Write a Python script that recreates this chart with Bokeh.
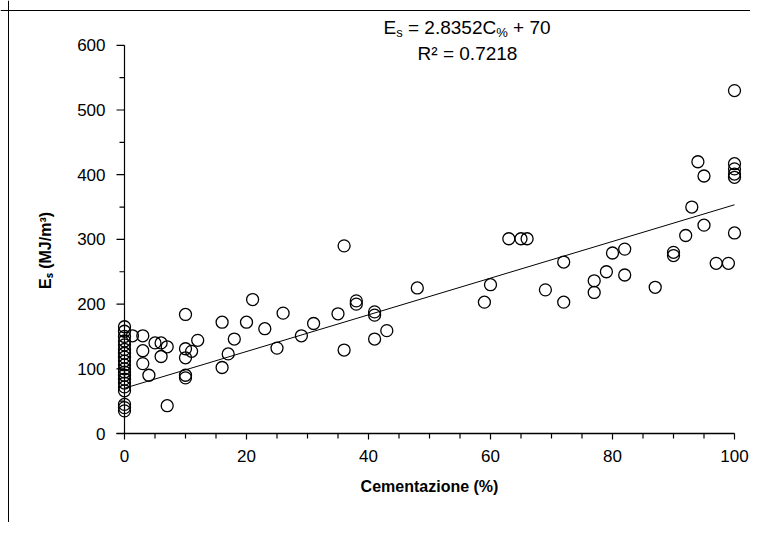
from bokeh.plotting import figure
from bokeh.models import Range1d, Label, ColumnDataSource, Span
from bokeh.core.properties import value
from bokeh.embed import file_html
from bokeh.resources import INLINE
import math

# Data (Cementazione %, Es MJ/m3)
cementazione = [0, 0, 0, 0, 0, 0, 0, 0, 0, 0, 0, 0, 0, 0, 0, 0, 0, 0, 0, 0,
                1.3, 3, 3, 3, 4, 5, 6, 7, 6, 7,
                10, 10, 10, 10, 10, 11, 12, 16, 16, 17, 18, 20, 21, 23, 25, 26,
                29, 31, 35, 36, 36, 38, 38, 41, 41, 41, 43, 48,
                59, 60, 63, 65, 66, 69, 72, 72, 77, 77, 79, 80, 82, 82, 87,
                90, 90, 92, 93, 94, 95, 95, 97, 99,
                100, 100, 100, 100, 100, 100]
energia = [165, 158, 150, 143, 137, 130, 124, 118, 112, 106, 100, 95, 90, 84, 78, 72, 66, 45, 40, 35,
           151, 151, 128, 108, 90, 140, 140, 134, 119, 43,
           184, 131, 117, 90, 86, 127, 144, 172, 102, 123, 146, 172, 207, 162, 132, 186,
           151, 170, 185, 290, 129, 200, 205, 183, 188, 146, 159, 225,
           203, 230, 301, 301, 301, 222, 265, 203, 236, 218, 250, 279, 285, 245, 226,
           275, 280, 306, 350, 420, 322, 398, 263, 263,
           530, 417, 409, 401, 396, 310]

slope = 2.8352
intercept = 70.0
fit_x = [0, 100]
fit_y = [intercept + slope * v for v in fit_x]

x_ticks = [0, 20, 40, 60, 80, 100]
x_tick_labels = [str(v) for v in x_ticks]
x_minor = [v for v in range(0, 101, 5) if v % 20]
y_ticks = [0, 100, 200, 300, 400, 500, 600]
y_tick_labels = [str(v) for v in y_ticks]
y_minor = [v for v in range(0, 601, 50) if v % 100]

x_title = "Cementazione (%)"
y_title = "Eₛ (MJ/m³)"

FONT = "Liberation Sans"
px = 6.1    # pixels per x unit
py = 0.647  # pixels per y unit

p = figure(width=750, height=522, output_backend="svg", toolbar_location=None,
           x_range=Range1d(-124 / px, 626 / px), y_range=Range1d(-89 / py, 433 / py),
           x_axis_location=None, y_axis_location=None,
           min_border_left=0, min_border_right=0, min_border_top=0, min_border_bottom=0)
p.outline_line_color = None
p.background_fill_color = "white"
p.border_fill_color = "white"
p.xgrid.visible = False
p.ygrid.visible = False

# ---- x axis at y = 0 ----
ax_line = p.line(x=[x_ticks[0] - 8 / px, x_ticks[-1]], y=[0, 0], line_color="black",
                 line_width=1.6, level="overlay")
tick_len_major = 6 / py
tick_len_minor = 5 / py
p.segment(x0=x_ticks, y0=[0] * len(x_ticks), x1=x_ticks, y1=[-tick_len_major] * len(x_ticks),
          line_color="black", line_width=1.2, level="overlay")
p.segment(x0=x_minor, y0=[0] * len(x_minor), x1=x_minor, y1=[-tick_len_minor] * len(x_minor),
          line_color="black", line_width=1.2, level="overlay")
p.text(x=x_ticks, y=[-16 / py] * len(x_ticks), text=x_tick_labels,
       text_align="center", text_baseline="top", text_font=value(FONT),
       text_font_size=value("17px"), text_color="black")
p.add_layout(Label(x=(x_ticks[0] + x_ticks[-1]) / 2, y=-53 / py, text=x_title,
                   text_font=FONT, text_font_style="bold", text_font_size="16px",
                   text_align="center", text_baseline="middle", text_color="black"))

# ---- y axis at x = 0 ----
p.segment(x0=[0], y0=[y_ticks[0]], x1=[0], y1=[y_ticks[-1]], line_color="black", line_width=1.2)
p.ray(x=[0] * len(y_ticks), y=y_ticks, length=8, length_units="screen", angle=math.pi,
      line_color="black", line_width=1.2)
p.ray(x=[0] * len(y_minor), y=y_minor, length=5, length_units="screen", angle=math.pi,
      line_color="black", line_width=1.2)
p.text(x=[-19 / px] * len(y_ticks), y=y_ticks, text=y_tick_labels,
       text_align="right", text_baseline="middle", text_font=value(FONT),
       text_font_size=value("17px"), text_color="black")
p.add_layout(Label(x=-79 / px, y=283, angle=math.pi / 2,
                   text=y_title, text_font=FONT, text_font_style="bold",
                   text_font_size="16px", text_align="center", text_baseline="middle",
                   text_color="black"))

# outer frame lines of the original figure
p.add_layout(Span(location=-116 / px, dimension="height", line_color="black", line_width=1))
p.add_layout(Span(location=423 / py, dimension="width", line_color="black", line_width=1))

# data points
src = ColumnDataSource(dict(x=cementazione, y=energia))
p.scatter("x", "y", source=src, marker="circle", size=12, fill_color=None,
          line_color="black", line_width=1.3)

# trend line
p.line(fit_x, fit_y, line_color="black", line_width=1)

# equation text
fs_main = 19
fs_sub = 13
center_x = 343 / px
left = center_x - 84.0 / px
base1 = 627
sub = 5 / py
parts = [
    (0.0, 0.0, "E", fs_main),
    (12.7, sub, "s", fs_sub),
    (24.5, 0.0, "= 2.8352C", fs_main),
    (112.7, sub, "%", fs_sub),
    (129.6, 0.0, "+ 70", fs_main),
]
for dx, dy, t, fs in parts:
    p.add_layout(Label(x=left + dx / px, y=base1 - dy, text=t, text_font=FONT,
                       text_font_size=f"{fs}px", text_align="left", text_baseline="alphabetic",
                       text_color="black"))
p.add_layout(Label(x=center_x, y=587, text="R² = 0.7218", text_font=FONT,
                   text_font_size=f"{fs_main}px", text_align="center", text_baseline="alphabetic",
                   text_color="black"))

open("out.html", "w").write(file_html(p, INLINE))
